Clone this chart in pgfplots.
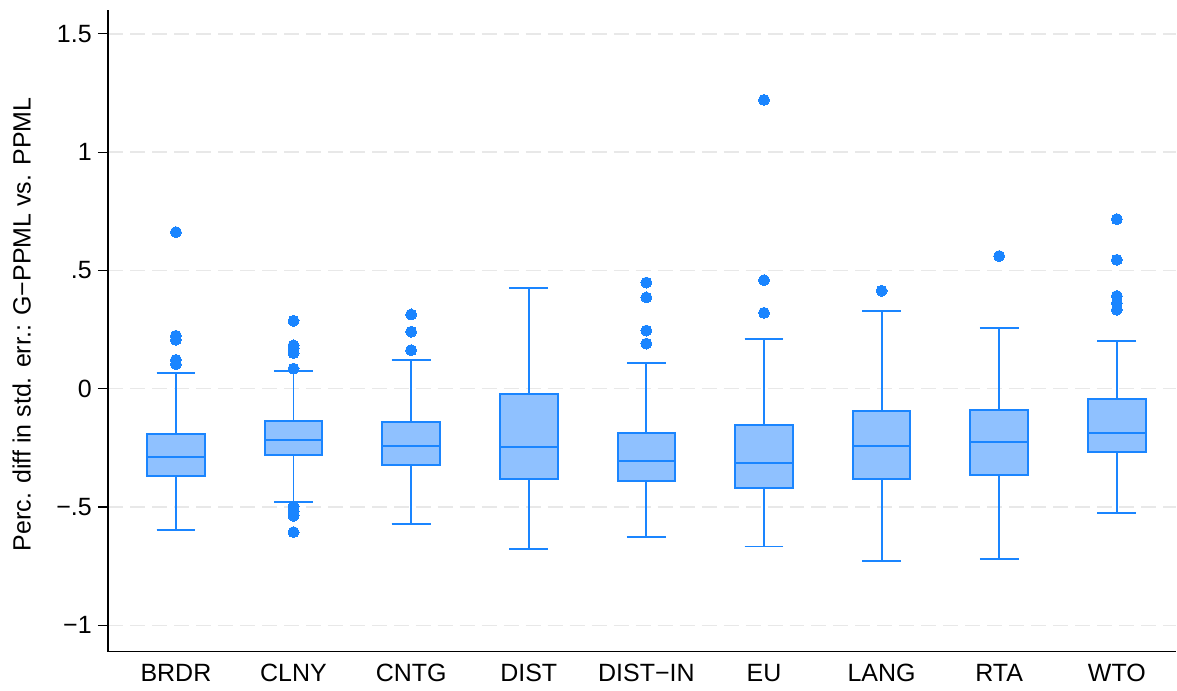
\documentclass[border=0pt]{standalone}
\usepackage{fontspec}
\setmainfont{Liberation Sans}
\usepackage{pgfplots}
\pgfplotsset{compat=1.18}
\usepgfplotslibrary{statistics}
\definecolor{bedge}{RGB}{26,133,255}
\definecolor{bfill}{RGB}{143,193,255}
\definecolor{gridc}{RGB}{232,232,232}
\pgfplotsset{
  sbox/.style={draw=bedge, fill=bfill, line width=0.75pt, solid,
    mark=*, mark size=2.2pt, mark options={draw=bedge, fill=bedge, line width=0pt}},
}
\begin{document}
\begin{tikzpicture}
\begin{axis}[
  scale only axis, width=427.6pt, height=256.8pt,
  xmin=-0.578, xmax=8.505, ymin=-1.111, ymax=1.601,
  axis x line*=bottom, axis y line*=left,
  axis line style={-, black, line width=0.5pt},
  xtick={0,...,8},
  xticklabels={BRDR,CLNY,CNTG,DIST,DIST−IN,EU,LANG,RTA,WTO},
  x tick style={draw=none},
  xticklabel style={yshift=2.4pt},
  ytick={-1,-0.5,0,0.5,1,1.5},
  yticklabels={−1,−.5,0,.5,1,1.5},
  yticklabel style={inner xsep=2.3pt},
  tick align=outside, major tick length=4pt,
  y tick style={black, line width=0.5pt},
  ymajorgrids,
  y grid style={gridc, line width=0.6pt, dash pattern=on 6pt off 2.8pt},
  ylabel={Perc. diff in std. err.: G−PPML vs. PPML},
  ylabel style={at={(axis description cs:0,0.5)}, anchor=center, yshift=34.5pt, xshift=2.6pt},
  boxplot/draw direction=y,
  boxplot/box extend=0.49,
  boxplot/whisker extend=0.33,
  boxplot/every box/.style={line width=0.8pt},
  boxplot/every median/.style={line width=0.8pt},
  boxplot/every whisker/.style={line width=0.75pt},
]
% BRDR
\addplot[sbox, boxplot prepared={lower whisker=-0.596, lower quartile=-0.369, median=-0.289, upper quartile=-0.190, upper whisker=0.068, draw position=0}]
  table[row sep=\\, y index=0] {y\\ 0.662\\ 0.224\\ 0.207\\ 0.122\\ 0.104\\};
% CLNY
\addplot[sbox, boxplot prepared={lower whisker=-0.480, lower quartile=-0.279, median=-0.215, upper quartile=-0.138, upper whisker=0.076, draw position=1}]
  table[row sep=\\, y index=0] {y\\ 0.287\\ 0.183\\ 0.169\\ 0.151\\ 0.085\\ -0.497\\ -0.518\\ -0.537\\ -0.606\\};
% CNTG
\addplot[sbox, boxplot prepared={lower whisker=-0.570, lower quartile=-0.321, median=-0.242, upper quartile=-0.142, upper whisker=0.120, draw position=2}]
  table[row sep=\\, y index=0] {y\\ 0.314\\ 0.241\\ 0.163\\};
% DIST
\addplot[sbox, boxplot prepared={lower whisker=-0.679, lower quartile=-0.382, median=-0.245, upper quartile=-0.023, upper whisker=0.425, draw position=3}]
  coordinates {};
% DIST-IN
\addplot[sbox, boxplot prepared={lower whisker=-0.625, lower quartile=-0.389, median=-0.304, upper quartile=-0.186, upper whisker=0.107, draw position=4}]
  table[row sep=\\, y index=0] {y\\ 0.449\\ 0.386\\ 0.246\\ 0.191\\};
% EU
\addplot[sbox, boxplot prepared={lower whisker=-0.667, lower quartile=-0.418, median=-0.315, upper quartile=-0.155, upper whisker=0.211, draw position=5}]
  table[row sep=\\, y index=0] {y\\ 1.221\\ 0.459\\ 0.321\\};
% LANG
\addplot[sbox, boxplot prepared={lower whisker=-0.729, lower quartile=-0.382, median=-0.241, upper quartile=-0.093, upper whisker=0.330, draw position=6}]
  table[row sep=\\, y index=0] {y\\ 0.414\\};
% RTA
\addplot[sbox, boxplot prepared={lower whisker=-0.720, lower quartile=-0.365, median=-0.227, upper quartile=-0.089, upper whisker=0.258, draw position=7}]
  table[row sep=\\, y index=0] {y\\ 0.561\\};
% WTO
\addplot[sbox, boxplot prepared={lower whisker=-0.525, lower quartile=-0.266, median=-0.189, upper quartile=-0.044, upper whisker=0.201, draw position=8}]
  table[row sep=\\, y index=0] {y\\ 0.717\\ 0.545\\ 0.392\\ 0.362\\ 0.334\\};
\end{axis}
\path[use as bounding box] (current axis.south west) ++(-43.2pt,-14.4pt) rectangle ++(470.8pt,275.2pt);
\end{tikzpicture}
\end{document}
